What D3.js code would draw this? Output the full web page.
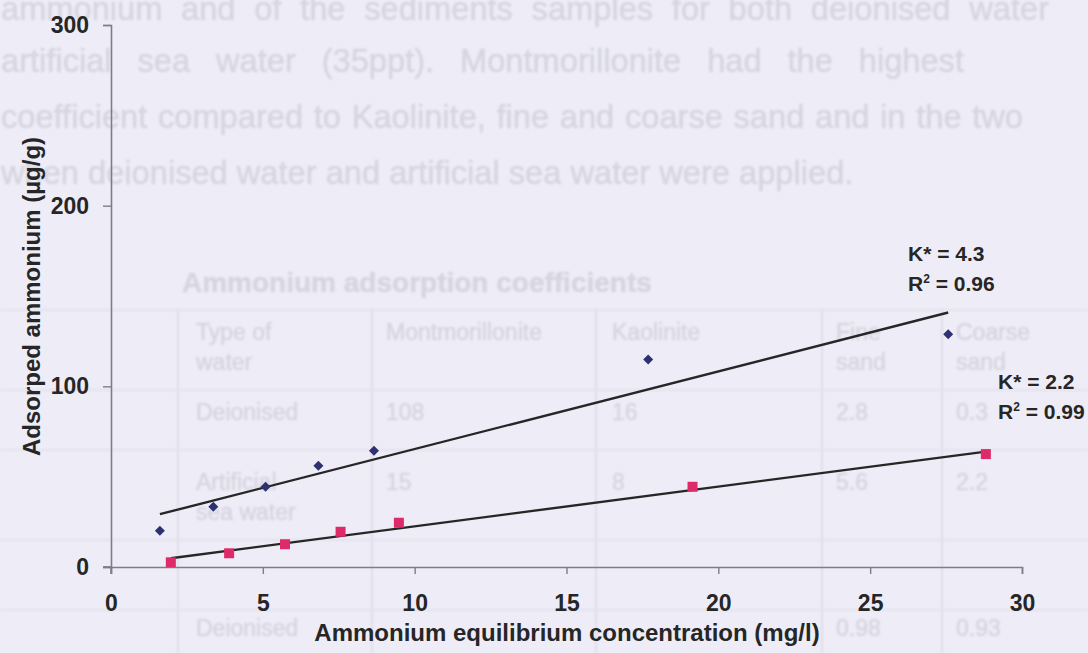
<!DOCTYPE html>
<html>
<head>
<meta charset="utf-8">
<script src="https://cdn.jsdelivr.net/npm/d3@7"></script>
<style>
  html, body { margin: 0; padding: 0; background: #eeedf7; }
  svg { display: block; }
  text { font-family: "Liberation Sans", Arial, sans-serif; }
</style>
</head>
<body>
<svg id="chart" width="1088" height="653"></svg>
<script>
// Ammonium adsorption isotherms: equilibrium concentration (mg/l) vs adsorbed ammonium (µg/g)
const deionisedConc     = [1.61, 3.37, 5.09, 6.83, 8.66, 17.69, 27.57];
const deionisedAdsorbed = [20.1, 33.4, 44.4, 56.1, 64.4, 114.9, 128.8];
const seawaterConc      = [1.97, 3.89, 5.73, 7.56, 9.48, 19.15, 28.81];
const seawaterAdsorbed  = [2.6, 7.6, 12.6, 19.5, 24.5, 44.4, 62.5];

// Linear fits: slope K*, intercept, coefficient of determination
const fitSlopes     = [4.3, 2.2];
const fitIntercepts = [22.3, 0.5];
const fitR2         = [0.96, 0.99];

const xTicks = [0, 5, 10, 15, 20, 25, 30];
const yTicks = [0, 100, 200, 300];
const xTitle = "Ammonium equilibrium concentration (mg/l)";
const yTitle = "Adsorped ammonium (µg/g)";

// Faint text of the facing page showing through the paper
const pageLines = [
  "ammonium and of the sediments samples for both deionised water",
  "artificial sea water (35ppt). Montmorillonite had the highest",
  "coefficient compared to Kaolinite, fine and coarse sand and in the two",
  "when deionised water and artificial sea water were applied."
];
const tableCaption = "Ammonium adsorption coefficients";
const tableCells = [
  ["Type    of", "Montmorillonite", "Kaolinite", "Fine", "Coarse"],
  ["water", "", "", "sand", "sand"],
  ["Deionised", "108", "16", "2.8", "0.3"],
  ["Artificial", "15", "8", "5.6", "2.2"],
  ["sea water", "", "", "", ""],
  ["Deionised", "", "", "0.98", "0.93"]
];

const svg = d3.select("#chart");
const W = 1088, H = 653;

// ---- show-through page ----
const defs = svg.append("defs");
defs.append("filter").attr("id", "soft")
  .append("feGaussianBlur").attr("stdDeviation", 1.1);

const ghost = svg.append("g").attr("filter", "url(#soft)")
  .attr("fill", "#d6d5e1").attr("stroke", "#d6d5e1").attr("stroke-width", 0.6);

// size the page font so the closing (unjustified) line spans its width
const probe = ghost.append("text").style("font-size", "28px").text(pageLines[3]);
const pageFont = 28 * 853 / probe.node().getComputedTextLength();
probe.remove();

const lineY = [20, 72, 128, 184];
const lineEnd = [1049, 964, 1023, null];
pageLines.forEach((t, i) => {
  const el = ghost.append("text").attr("x", 1).attr("y", lineY[i])
    .style("font-size", `${pageFont}px`).text(t);
  if (lineEnd[i]) {
    const natural = el.node().getComputedTextLength();
    const gaps = t.split(" ").length - 1;
    el.style("word-spacing", `${Math.max(0, (lineEnd[i] - 1 - natural) / gaps)}px`);
  }
});
ghost.append("text").attr("x", 182).attr("y", 292)
  .style("font-size", "28px").style("font-weight", "bold").text(tableCaption);
const colX = [196, 386, 612, 836, 956];
const rowY = [340, 370, 420, 490, 520, 636];
const tg = ghost.append("g").style("font-size", "23px");
tableCells.forEach((row, r) => row.forEach((c, k) => {
  if (c) tg.append("text").attr("x", colX[k]).attr("y", rowY[r]).text(c);
}));
const grid = svg.append("g").attr("filter", "url(#soft)");
grid.selectAll("line.v").data([178, 372, 596, 822, 942]).join("line")
  .attr("x1", d => d).attr("x2", d => d).attr("y1", 308).attr("y2", 653)
  .attr("stroke", "#dddce8").attr("stroke-width", 2);
grid.selectAll("line.h").data([310, 390, 450, 540, 610]).join("line")
  .attr("x1", 0).attr("x2", W).attr("y1", d => d).attr("y2", d => d)
  .attr("stroke", "#e2e1ec").attr("stroke-width", 2);

// ---- chart ----
const x = d3.scaleLinear().domain([0, 30]).range([111, 1022]);
const y = d3.scaleLinear().domain([0, 300]).range([567, 25]);

const axisColor = "#7d7d89";
const ink = "#262626";

const gx = svg.append("g").attr("transform", `translate(0,${y(0)})`)
  .call(d3.axisBottom(x).tickValues(xTicks).tickSize(7).tickPadding(21).tickFormat(d3.format("d")));
const gy = svg.append("g").attr("transform", `translate(${x(0)},0)`)
  .call(d3.axisLeft(y).tickValues(yTicks).tickSize(8).tickPadding(14).tickFormat(d3.format("d")));

[gx, gy].forEach(g => {
  g.select(".domain").attr("stroke", axisColor).attr("stroke-width", 1.6);
  g.selectAll(".tick line").attr("stroke", axisColor).attr("stroke-width", 1.4);
  g.selectAll(".tick text").attr("fill", ink)
    .style("font-size", "23px").style("font-weight", "bold")
    .style("font-family", "'Liberation Sans', Arial, sans-serif");
});
// frame corner: both axis lines run out to the tick length
svg.append("line").attr("x1", x(0)).attr("x2", x(0)).attr("y1", y(0)).attr("y2", y(0) + 7)
  .attr("stroke", axisColor).attr("stroke-width", 1.4);
svg.append("line").attr("x1", x(0) - 8).attr("x2", x(0)).attr("y1", y(0)).attr("y2", y(0))
  .attr("stroke", axisColor).attr("stroke-width", 1.6);

// axis titles
svg.append("text").attr("x", 567).attr("y", 641)
  .attr("text-anchor", "middle").attr("fill", ink)
  .style("font-size", "24px").style("font-weight", "bold").text(xTitle);
svg.append("text").attr("transform", `translate(40,${(138 + 455) / 2}) rotate(-90)`)
  .attr("text-anchor", "middle").attr("fill", ink)
  .style("font-size", "24px").style("font-weight", "bold").text(yTitle);

// fitted lines
const series = [
  { conc: deionisedConc, ads: deionisedAdsorbed },
  { conc: seawaterConc, ads: seawaterAdsorbed }
];
series.forEach((s, i) => {
  const x0 = d3.min(s.conc), x1 = d3.max(s.conc);
  svg.append("line")
    .attr("x1", x(x0)).attr("y1", y(fitSlopes[i] * x0 + fitIntercepts[i]))
    .attr("x2", x(x1)).attr("y2", y(fitSlopes[i] * x1 + fitIntercepts[i]))
    .attr("stroke", "#262626").attr("stroke-width", 2.4);
});

// deionised water: navy diamonds
svg.append("g").selectAll("path").data(deionisedConc).join("path")
  .attr("d", d3.symbol(d3.symbolDiamond2, 64)())
  .attr("transform", (d, i) => `translate(${x(d)},${y(deionisedAdsorbed[i])})`)
  .attr("fill", "#2e3170");

// artificial sea water: magenta squares
svg.append("g").selectAll("rect").data(seawaterConc).join("rect")
  .attr("x", d => x(d) - 5).attr("y", (d, i) => y(seawaterAdsorbed[i]) - 5)
  .attr("width", 10).attr("height", 10)
  .attr("fill", "#de2a68");

// fit annotations
const labelPos = [[908, 261], [998, 389]];
fitSlopes.forEach((k, i) => {
  const g = svg.append("g").attr("fill", ink)
    .style("font-size", "21px").style("font-weight", "bold");
  g.append("text").attr("x", labelPos[i][0]).attr("y", labelPos[i][1])
    .text(`K* = ${d3.format(".1f")(k)}`);
  const t = g.append("text").attr("x", labelPos[i][0]).attr("y", labelPos[i][1] + 30);
  t.append("tspan").text("R");
  t.append("tspan").attr("dy", -8).style("font-size", "12px").text("2");
  t.append("tspan").attr("dy", 8).text(` = ${d3.format(".2f")(fitR2[i])}`);
});
</script>
</body>
</html>
